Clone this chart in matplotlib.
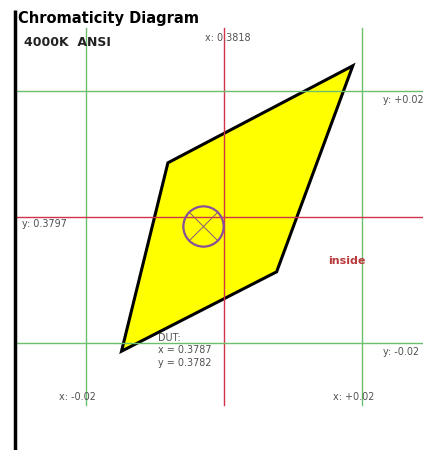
import matplotlib
matplotlib.use("Agg")
import matplotlib.pyplot as plt

# 4000K quadrangle corners as drawn (CIE x, y)
quad_x = [0.4004, 0.3894, 0.3670, 0.3737]
quad_y = [0.4037, 0.3710, 0.3584, 0.3883]
center_x, center_y = 0.3818, 0.3797
tol = 0.02
dut_x, dut_y = 0.3787, 0.3782
title = "Chromaticity Diagram"
subtitle = "4000K  ANSI"
status = "inside"

red = "#d0344a"
green = "#6cbf6c"
grey = "#505050"

fig = plt.figure(figsize=(4.23, 4.5), dpi=100)
ax = fig.add_axes([0, 0, 1, 1])
ax.set_xlim(0.34945, 0.41054)
ax.set_ylim(0.34272, 0.41414)
ax.axis("off")

left_x = center_x - 0.03018
y_top = center_y + 0.0300
y_bot = center_y - 0.0298

# quadrangle
ax.fill(quad_x, quad_y, facecolor="#ffff00", edgecolor="black", lw=2.2,
        joinstyle="miter", zorder=2)

# guide lines
for k, xv in enumerate([center_x - tol, center_x, center_x + tol]):
    ax.plot([xv, xv], [y_bot, y_top], color=red if k == 1 else green, lw=1, zorder=3)
for k, yv in enumerate([center_y + tol, center_y, center_y - tol]):
    ax.plot([left_x, 0.42], [yv, yv], color=red if k == 1 else green, lw=1, zorder=3)

# left border line
ax.plot([left_x, left_x], [0.3427, center_y + 0.0328], color="black", lw=2.5,
        solid_capstyle="butt", zorder=4)

# DUT marker
ax.plot(dut_x, dut_y, "o", ms=29, mfc="none", mec="#8a4f9a", mew=1.6, zorder=5)
ax.plot(dut_x, dut_y, "x", ms=20, mec="#8a5a7a", mew=0.7, zorder=5)

fs = 6.9
ax.annotate("x: %.4f" % center_x, (center_x, y_top), xytext=(-13.7, -7.2),
            textcoords="offset points", ha="left", va="center", fontsize=fs, color=grey)
ax.annotate("y: +%.2f" % tol, (center_x + tol, center_y + tol), xytext=(15, -6.5),
            textcoords="offset points", ha="left", va="center", fontsize=fs, color=grey)
ax.annotate("y: -%.2f" % tol, (center_x + tol, center_y - tol), xytext=(15, -6.5),
            textcoords="offset points", ha="left", va="center", fontsize=fs, color=grey)
ax.annotate("y: %.4f" % center_y, (left_x, center_y), xytext=(5, -5),
            textcoords="offset points", ha="left", va="center", fontsize=fs, color=grey)
ax.annotate("x: -%.2f" % tol, (center_x - tol, y_bot), xytext=(-19.4, 5.8),
            textcoords="offset points", ha="left", va="center", fontsize=fs, color=grey)
ax.annotate("x: +%.2f" % tol, (center_x + tol, y_bot), xytext=(-20.9, 5.8),
            textcoords="offset points", ha="left", va="center", fontsize=fs, color=grey)
ax.annotate("DUT:\nx = %.4f\ny = %.4f" % (dut_x, dut_y), (center_x - tol, center_y - tol),
            xytext=(52, 7.5), textcoords="offset points", ha="left", va="top",
            fontsize=fs, color=grey, linespacing=1.35, zorder=6)
ax.annotate(status, (center_x + tol, center_y), xytext=(-25, -31.5),
            textcoords="offset points", ha="left", va="center", fontsize=8,
            fontweight="bold", color="#b83a3a")

fig.text(18 / 423, 1 - 18 / 450, title, ha="left", va="center", fontsize=10.5,
         fontweight="bold", color="black")
fig.text(24 / 423, 1 - 42 / 450, subtitle, ha="left", va="center", fontsize=9,
         fontweight="bold", color="#222222")

fig.savefig("out.png", dpi=100)
